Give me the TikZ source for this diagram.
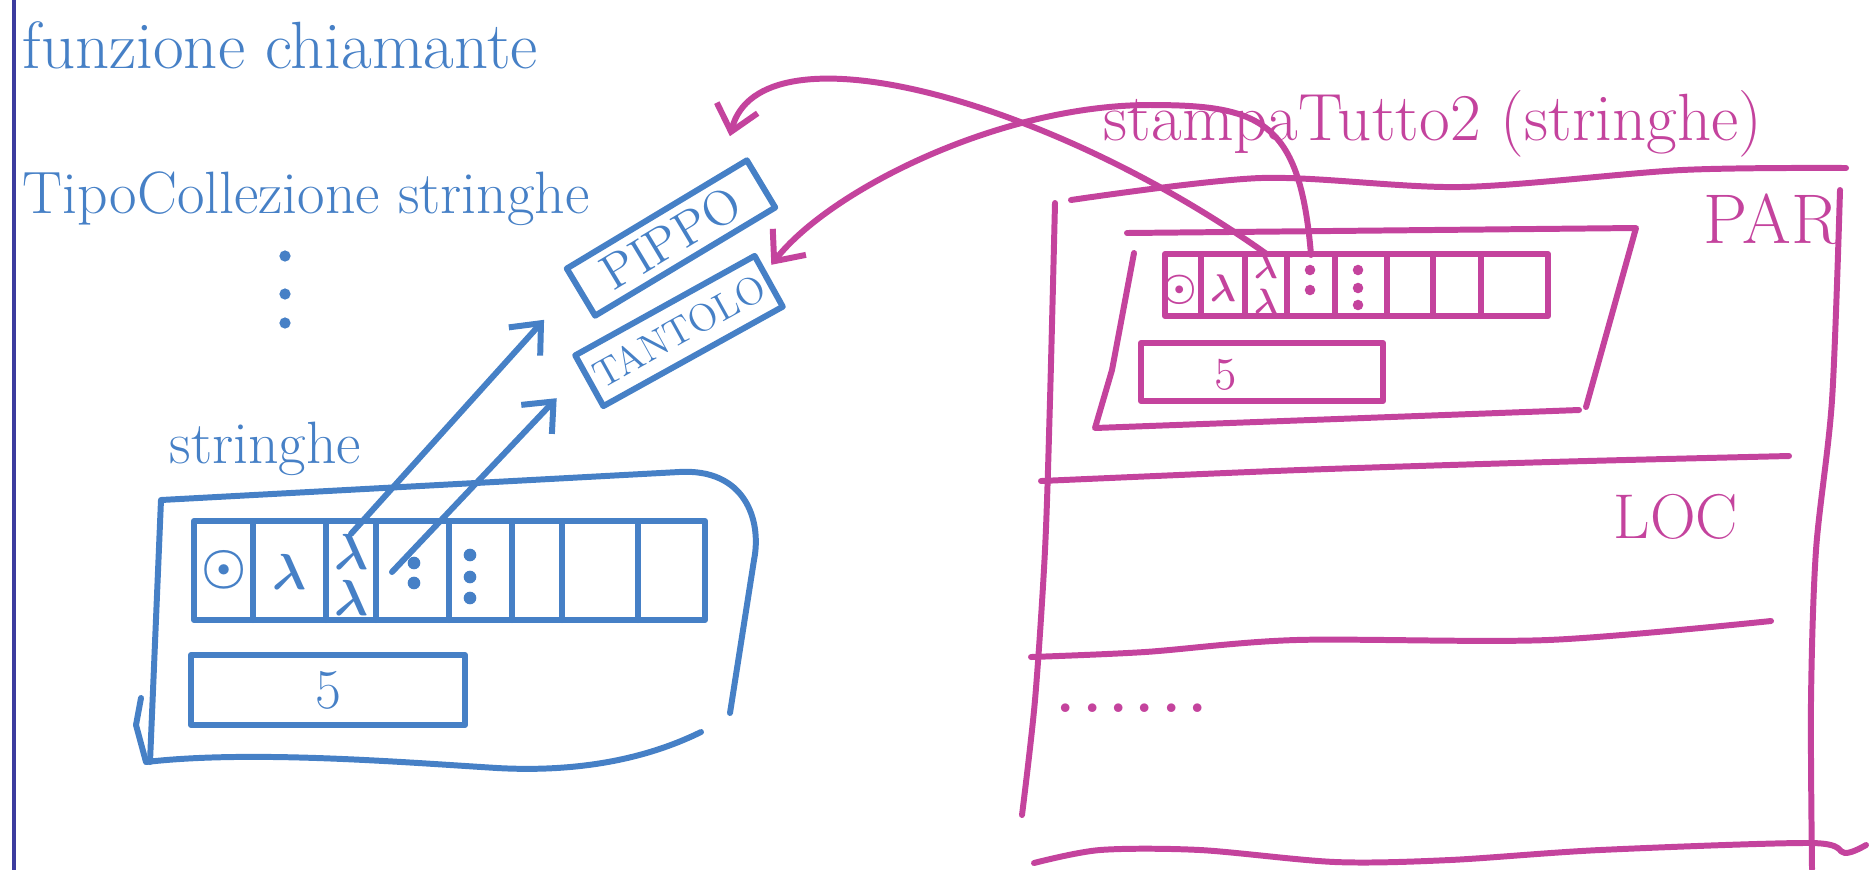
\documentclass[tikz,border=0pt]{standalone}
\usepackage{amsmath,amssymb}
\usepackage{xcolor}
\usepackage{tikz}
\usetikzlibrary{positioning,arrows.meta,calc}
\definecolor{bink}{HTML}{4680C6}
\definecolor{mink}{HTML}{C4439D}
\definecolor{marginc}{HTML}{3C3C9E}
\tikzset{
  bline/.style={draw=bink,line width=1.7pt},
  mline/.style={draw=mink,line width=1.7pt},
  bcell/.style={inner sep=0pt,text=bink,font=\fontsize{14}{15}\selectfont\boldmath},
  mcell/.style={inner sep=0pt,text=mink,font=\fontsize{11}{12}\selectfont\boldmath},
  strbox/.style={bline,inner sep=0pt,text=bink},
  lenbox/.style={inner sep=0pt,font=\fontsize{16}{19}\selectfont},
  blab/.style={text=bink,anchor=base west,inner sep=0pt},
  mlab/.style={text=mink,anchor=base west,inner sep=0pt},
}

\begin{document}
\begin{tikzpicture}[x=0.01cm,y=-0.01cm,>={Straight Barb[length=7pt,width=12pt]},line cap=round,line join=round]
  \useasboundingbox (0,0) rectangle (1876,869);
  % margin rule
  \draw[draw=marginc,line width=1.4pt] (14,0) -- (14,869);

  % calling function
  \node[blab,font=\fontsize{19}{22}\selectfont] (caller) at (22,68) {funzione chiamante};
  \node[blab,font=\fontsize{17}{20}\selectfont] (tipo) at (22,213) {TipoCollezione stringhe};
  \foreach \y in {256,294,323} \fill[bink] (285,\y) circle (1.6pt);
  \node[blab,font=\fontsize{17}{20}\selectfont] (strlab) at (169,463) {stringhe};

  % the struct variable
  \draw[bline] (730,713) -- (754,560) .. controls (762,520) and (745,468) .. (679,472) -- (161,500) -- (150,762);
  \draw[bline] (141,698) -- (136,725) -- (146,762) .. controls (250,750) and (400,762) .. (497,768) .. controls (570,772) and (640,762) .. (701,732);
  \draw[bline] (194,521) rectangle (705,620);
  \foreach \x in {253,326,376,449,512,562,638} \draw[bline] (\x,521) -- (\x,620);
  \node[bcell] (b1) at (224,570) {$\odot$};
  \node[bcell] (b2) at (289,572) {$\lambda$};
  \node[bcell] (b3) at (351,575) {\shortstack{$\lambda$\\$\lambda$}};
  \coordinate (b4) at (412,572);
  \foreach \y in {563,583} \fill[bink] (414,\y) circle (1.8pt);
  \foreach \y in {555,577,598} \fill[bink] (470,\y) circle (1.8pt);
  \node[lenbox,bline,text=bink,minimum width=2.74cm,minimum height=0.7cm] (blen) at (328,690) {5};

  % the strings
  \node[strbox,rotate=31,minimum width=2.1cm,minimum height=0.55cm,font=\fontsize{14}{16}\selectfont] (pippo) at (671,238) {PIPPO};
  \node[strbox,rotate=29,minimum width=2.05cm,minimum height=0.58cm,font=\fontsize{11}{13}\selectfont] (tantolo) at (679,331) {TANTOLO};
  \draw[bline,->] (b3.north) -- ([xshift=-0.5cm]pippo.south west);
  \draw[bline,->] ([xshift=-0.2cm]b4) -- ([xshift=-0.3cm,yshift=-0.16cm]tantolo.west);

  % called function frame
  \node[mlab,font=\fontsize{19}{22}\selectfont] (title) at (1103,140) {stampaTutto2 (stringhe)};
  \draw[mline] plot[smooth] coordinates {(1071,200) (1261,178) (1461,187) (1682,170) (1846,168)};
  \draw[mline] plot[smooth] coordinates {(1055,203) (1050,400) (1045,550) (1035,700) (1022,815)};
  \draw[mline] plot[smooth] coordinates {(1840,190) (1832,400) (1816,550) (1811,700) (1812,869)};
  \draw[mline] plot[smooth] coordinates {(1041,481) (1300,470) (1550,462) (1789,456)};
  \draw[mline] plot[smooth] coordinates {(1031,657) (1145,652) (1296,640) (1548,640) (1771,621)};
  \draw[mline] plot[smooth] coordinates {(1034,863) (1100,850) (1200,850) (1335,862) (1450,860) (1600,850) (1811,843) (1845,853) (1866,845)};
  \node[mlab,font=\fontsize{20}{24}\selectfont] (par) at (1703,243) {PAR};
  \node[mlab,font=\fontsize{18}{22}\selectfont] (loc) at (1613,538) {LOC};
  \node[mlab,font=\fontsize{30}{30}\selectfont] (etc) at (1052,712) {......};

  % parameter copy
  \draw[mline] (1127,233) -- (1636,228) -- (1586,407);
  \draw[mline] (1134,253) -- (1112,370) -- (1095,428) -- (1579,410);
  \draw[mline] (1165,254) rectangle (1548,316);
  \foreach \x in {1201,1245,1287,1335,1387,1433,1481} \draw[mline] (\x,254) -- (\x,316);
  \node[mcell] (m1) at (1180,290) {$\odot$};
  \node[mcell] (m2) at (1223,288) {$\lambda$};
  \node[mcell,font=\fontsize{10}{11}\selectfont\boldmath] (m3) at (1266,284) {\shortstack{$\lambda$\\$\lambda$}};
  \coordinate (m4) at (1311,285);
  \foreach \y in {270,290} \fill[mink] (1310,\y) circle (1.5pt);
  \foreach \y in {270,288,305} \fill[mink] (1358,\y) circle (1.5pt);
  \draw[mline] (1141,343) rectangle (1383,401);
  \node[lenbox,text=mink,font=\fontsize{13}{15}\selectfont] (mfive) at (1226,375) {5};
  \draw[mline,->] (m3.north) .. controls (1050,100) and (760,20) .. ([xshift=-0.18cm,yshift=0.2cm]pippo.north east);
  \draw[mline,->] ([yshift=0.3cm]m4) .. controls (1300,120) and (1260,105) .. (1150,105) .. controls (1000,105) and (830,190) .. ([yshift=0.15cm]tantolo.east);
\end{tikzpicture}
\end{document}
